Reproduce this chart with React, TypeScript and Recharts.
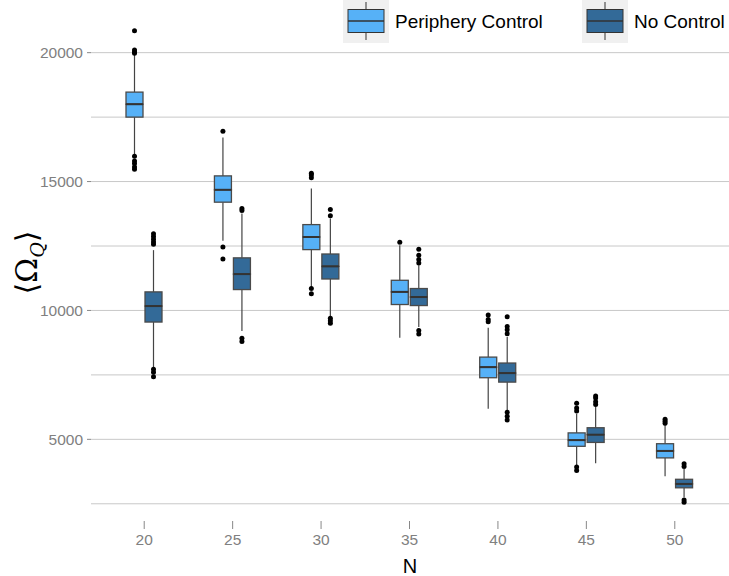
import React from "react";
import { ComposedChart, Bar, XAxis, YAxis, CartesianGrid, Legend } from "recharts";

// network sizes on the x axis
const nValues = [20, 25, 30, 35, 40, 45, 50];

// Periphery Control: whisker low, quartiles, median, whisker high, outliers
const pLo = [16030, 12700, 10910, 8940, 6190, 3980, 3570];
const pQ1 = [17500, 14200, 12360, 10230, 7390, 4730, 4280];
const pMed = [18000, 14680, 12850, 10720, 7800, 4970, 4550];
const pQ3 = [18470, 15220, 13330, 11170, 8190, 5250, 4830];
const pHi = [19910, 16710, 14730, 12530, 9330, 5990, 5580];
const pOut = [
  [20850, 20100, 20030, 19980, 15980, 15800, 15700, 15560, 15480],
  [16950, 12460, 12000],
  [15320, 15250, 15150, 10850, 10650],
  [12650],
  [9820, 9650, 9560],
  [6400, 6220, 6100, 3930, 3790],
  [5780, 5700, 5620],
];

// No Control
const nLo = [7800, 9200, 9770, 9360, 6120, 4070, 2750];
const nQ1 = [9550, 10810, 11220, 10190, 7220, 4880, 3120];
const nMed = [10170, 11410, 11710, 10520, 7570, 5180, 3270];
const nQ3 = [10720, 12040, 12190, 10850, 7960, 5450, 3450];
const nHi = [12340, 13760, 13570, 11750, 8970, 6250, 3850];
const nOut = [
  [12980, 12870, 12760, 12660, 12570, 7720, 7600, 7430],
  [13950, 13880, 8920, 8800],
  [13920, 13670, 9700, 9600, 9500],
  [12370, 12140, 11980, 11840, 9220, 9090],
  [9760, 9380, 9250, 9100, 6050, 5900, 5750],
  [6680, 6600, 6460, 6350],
  [4050, 3950, 2650, 2560],
];

const yTicks = [2500, 5000, 7500, 10000, 12500, 15000, 17500, 20000];

const LIGHT = "#56B1F7";
const DARK = "#336A98";
const FONT = "'Liberation Sans', Arial, Helvetica, sans-serif";

const rows = nValues.map((n, i) => ({
  n,
  pLo: pLo[i], pQ1: pQ1[i], pMed: pMed[i], pQ3: pQ3[i], pHi: pHi[i], pOut: pOut[i],
  nLo: nLo[i], nQ1: nQ1[i], nMed: nMed[i], nQ3: nQ3[i], nHi: nHi[i], nOut: nOut[i],
}));

/// draws one box: the bar itself spans the whiskers, inner values are placed on the same linear scale
function BoxShape(props: any) {
  const { x, y, width, height, payload, k, fill } = props;
  const lo = payload[k + "Lo"];
  const hi = payload[k + "Hi"];
  const py = (v: number) => y + ((hi - v) / (hi - lo)) * height;
  const cx = x + width / 2;
  const q1 = py(payload[k + "Q1"]);
  const med = py(payload[k + "Med"]);
  const q3 = py(payload[k + "Q3"]);
  const outs: number[] = payload[k + "Out"];
  return (
    <g>
      <line x1={cx} x2={cx} y1={py(hi)} y2={q3} stroke="#444" strokeWidth={1.2} />
      <line x1={cx} x2={cx} y1={q1} y2={py(lo)} stroke="#444" strokeWidth={1.2} />
      <rect x={x} y={q3} width={width} height={med - q3} fill={fill} stroke="#4a4a4a" strokeWidth={1.3} />
      <rect x={x} y={med} width={width} height={q1 - med} fill={fill} stroke="#4a4a4a" strokeWidth={1.3} />
      <line x1={x} x2={x + width} y1={med} y2={med} stroke="#333" strokeWidth={2} />
      {outs.map((v, i) => (
        <circle key={i} cx={cx} cy={py(v)} r={2.5} fill="#000" />
      ))}
    </g>
  );
}

function YTick(props: any) {
  const { x, y, payload } = props;
  if (payload.value % 5000 !== 0) return <g />;
  return (
    <g>
      <line x1={x - 4} x2={x} y1={y} y2={y} stroke="#888" />
      <text x={x - 8} y={y + 5.5} textAnchor="end" fontSize={15.5} fill="#808080" fontFamily={FONT}>
        {payload.value}
      </text>
    </g>
  );
}

function XTick(props: any) {
  const { x, y, payload } = props;
  return (
    <g>
      <line x1={x} x2={x} y1={y + 10} y2={y + 18} stroke="#888" />
      <text x={x} y={y + 34} textAnchor="middle" fontSize={15.5} fill="#808080" fontFamily={FONT}>
        {payload.value}
      </text>
    </g>
  );
}

function LegendKey({ x, color, label }: { x: number; color: string; label: string }) {
  return (
    <g>
      <rect x={x} y={0} width={46} height={43} fill="#f0f0f0" />
      <line x1={x + 23} x2={x + 23} y1={2} y2={40} stroke="#333" />
      <rect x={x + 5} y={9.5} width={36} height={23} fill={color} stroke="#333" />
      <line x1={x + 5} x2={x + 41} y1={21} y2={21} stroke="#333" strokeWidth={1.3} />
      <text x={x + 52} y={28} fontSize={19} fill="#000" fontFamily={FONT}>
        {label}
      </text>
    </g>
  );
}

function LegendBox() {
  return (
    <svg width={729} height={45} style={{ display: "block", overflow: "visible" }}>
      <LegendKey x={343} color={LIGHT} label="Periphery Control" />
      <LegendKey x={582} color={DARK} label="No Control" />
    </svg>
  );
}

function YLabel(props: any) {
  const { viewBox } = props;
  const cx = 37;
  const cy = viewBox.y + viewBox.height / 2;
  return (
    <text
      x={cx}
      y={cy}
      transform={`rotate(-90, ${cx}, ${cy})`}
      textAnchor="middle"
      fontFamily="'DejaVu Serif', serif"
      fontSize={30}
      fill="#000"
    >
      <tspan>⟨Ω</tspan>
      <tspan fontStyle="italic" fontSize={19} dy={7}>Q</tspan>
      <tspan dy={-7}>⟩</tspan>
    </text>
  );
}

function XLabel(props: any) {
  const { viewBox } = props;
  return (
    <text
      x={viewBox.x + viewBox.width / 2}
      y={viewBox.y + 62}
      textAnchor="middle"
      fontSize={20}
      fill="#000"
      fontFamily={FONT}
    >
      N
    </text>
  );
}

export default function App() {
  return (
    <div style={{ width: 729, height: 576, overflow: "hidden" }}>
      <style>{"html,body{margin:0;padding:0;overflow:hidden}"}</style>
      <ComposedChart
        width={729}
        height={576}
        data={rows}
        margin={{ top: 14, right: 0, bottom: 0, left: 0 }}
        barGap={2}
      >
        <CartesianGrid vertical={false} stroke="#c8c8c8" syncWithTicks />
        <XAxis
          dataKey="n"
          height={65}
          padding={{ left: 9, right: 10 }}
          axisLine={false}
          tickLine={false}
          tickSize={0}
          tickMargin={0}
          tick={<XTick />}
          label={<XLabel />}
        />
        <YAxis
          type="number"
          domain={[2220, 21500]}
          ticks={yTicks}
          allowDataOverflow
          width={91}
          axisLine={false}
          tickLine={false}
          tickSize={0}
          tickMargin={0}
          tick={<YTick />}
          label={<YLabel />}
        />
        <Legend
          layout="horizontal"
          verticalAlign="middle"
          align="center"
          wrapperStyle={{ position: "absolute", top: 0, left: 0, width: 729, height: 45 }}
          content={() => <LegendBox />}
        />
        <Bar
          dataKey={(d: any) => [d.pLo, d.pHi]}
          name="Periphery Control"
          barSize={17}
          fill={LIGHT}
          isAnimationActive={false}
          shape={(p: any) => <BoxShape {...p} k="p" fill={LIGHT} />}
        />
        <Bar
          dataKey={(d: any) => [d.nLo, d.nHi]}
          name="No Control"
          barSize={17}
          fill={DARK}
          isAnimationActive={false}
          shape={(p: any) => <BoxShape {...p} k="n" fill={DARK} />}
        />
      </ComposedChart>
    </div>
  );
}
